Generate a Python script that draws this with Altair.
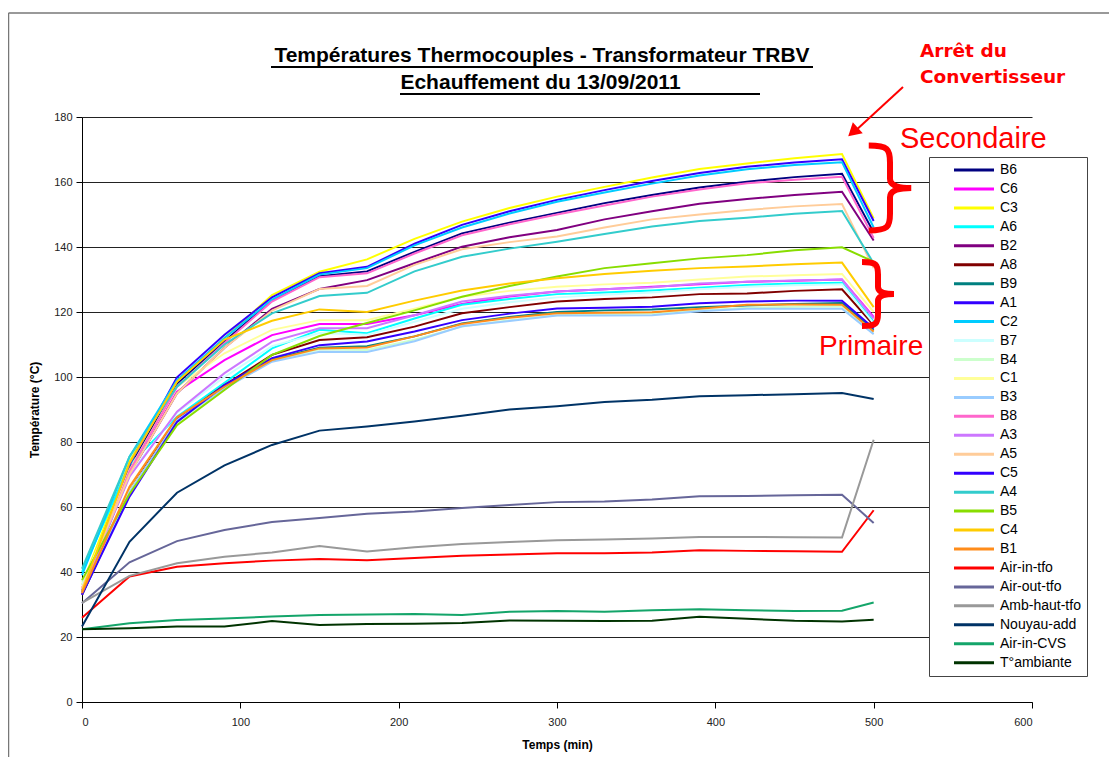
import altair as alt
import pandas as pd

TIME = [0, 30, 60, 90, 120, 150, 180, 210, 240, 270, 300, 330, 360, 390, 420, 450, 480, 500]

SERIES = ["B6", "C6", "C3", "A6", "B2", "A8", "B9", "A1", "C2", "B7", "B4", "C1", "B3", "B8",
          "A3", "A5", "C5", "A4", "B5", "C4", "B1", "Air-in-tfo", "Air-out-tfo",
          "Amb-haut-tfo", "Nouyau-add", "Air-in-CVS", "T°ambiante"]

COLORS = ["#000080", "#FF00FF", "#FFFF00", "#00FFFF", "#800080", "#800000", "#008080", "#3300FF",
          "#00CCFF", "#CCFFFF", "#CCFFCC", "#FFFF99", "#99CCFF", "#FF66CC", "#CC77FF", "#FFCC99",
          "#3300FF", "#33CCCC", "#88DD00", "#FFCC00", "#FF8C1A", "#FF0000", "#666699",
          "#999999", "#003366", "#14A56A", "#003300"]

B6 = [34, 72, 98, 111, 123.5, 131, 132.5, 138.5, 144.2, 147.5, 150.5, 153.5, 156, 158.3, 160.1, 161.5, 162.5, 144.5]
C6 = [35, 70, 95.5, 105.2, 112.9, 116.3, 116.3, 119, 122.5, 124.8, 126.3, 127, 127.8, 128.5, 129.3, 129.6, 130, 118.5]
C3 = [36, 74, 98.6, 112, 125.2, 132.4, 136.2, 142.5, 147.8, 152, 155.5, 158.5, 161.4, 164, 165.7, 167.3, 168.6, 148.8]
A6 = [40, 73, 87.8, 98.2, 108.8, 114.5, 113.5, 118, 122.2, 124, 125.5, 126, 126.6, 127.5, 128.3, 128.8, 129, 117]
B2 = [34, 70, 95, 109, 121, 127.1, 129.8, 135, 140.1, 143, 145.2, 148.5, 151, 153.3, 154.8, 156, 157, 142]
A8 = [33, 65, 87, 97.5, 106.8, 111.4, 112.2, 115.5, 119.6, 121.5, 123.2, 124, 124.5, 125.5, 125.7, 126.5, 127, 116]
B9 = [33, 64, 86.5, 97, 105.5, 109, 109.5, 112.5, 116.5, 118.5, 120, 120.5, 120.8, 121.5, 122, 122.5, 122.8, 114.5]
A1 = [34, 73, 99.9, 113, 124.5, 131.9, 133.9, 141, 146.8, 151, 154.5, 157.5, 160.3, 162.8, 164.7, 166, 167, 148]
C2 = [39, 75.5, 99, 112, 123.8, 131.5, 133.5, 140.5, 146, 150.3, 153.9, 156.8, 159.5, 162, 163.9, 165.2, 166.1, 146]
B7 = [36, 70, 89, 100, 109.5, 113.5, 113, 117, 121, 123, 124.5, 125.3, 126, 127, 127.8, 128.2, 128.5, 116.5]
B4 = [37, 65, 86, 96.5, 105, 108.5, 108.3, 111.5, 115.5, 117.5, 119, 119.3, 119.5, 120.5, 121.3, 121.6, 121.8, 113.8]
C1 = [35, 71.4, 97, 107.3, 114.5, 117.5, 117.5, 121, 124.7, 126.5, 127.8, 128.5, 129, 130, 130.9, 131.3, 131.7, 120]
B3 = [34, 64.5, 86.8, 96.5, 104.7, 107.8, 107.7, 111, 115.6, 117.2, 118.9, 118.9, 119, 120.2, 121, 121, 121, 113.2]
B8 = [33, 71, 97, 110.5, 123.2, 130.7, 131.9, 138, 143.6, 147, 150, 152.8, 155.5, 157.7, 159.6, 160.7, 161.6, 142.8]
A3 = [34.5, 69.3, 89.3, 101.2, 110.9, 115, 115, 119, 123.2, 125, 126.3, 127, 127.6, 128.8, 129.3, 129.7, 130, 118]
A5 = [35, 70, 95, 109, 120.4, 127.1, 128, 134.5, 139.3, 141.5, 143.2, 146, 148.5, 150, 151.4, 152.5, 153.2, 133.5]
C5 = [33, 63.2, 86.2, 97.5, 105.8, 109.8, 110.9, 114, 117.5, 119.5, 121.1, 121.3, 121.6, 122.7, 123.2, 123.5, 123.5, 115]
A4 = [41, 75.5, 97, 110, 119.6, 124.9, 125.9, 132.5, 137, 139.5, 141.6, 144, 146.3, 148, 149, 150.2, 151.1, 135]
B5 = [37.5, 64, 85.2, 96, 106.8, 112.6, 116.6, 120.5, 124.7, 128, 130.9, 133.5, 135, 136.5, 137.5, 139, 139.9, 135.5]
C4 = [34, 73.5, 98.6, 111.5, 117.3, 120.8, 120, 123.5, 126.6, 128.8, 130.4, 131.7, 132.7, 133.5, 134, 134.7, 135.2, 121.5]
B1 = [33.5, 66.2, 87.6, 97, 105.2, 108.8, 109.1, 112.5, 116.3, 118.2, 119.6, 119.8, 119.9, 121, 122.2, 122.3, 122.2, 114]
AIR_IN_TFO = [25.9, 38.6, 41.6, 42.7, 43.5, 44, 43.6, 44.3, 45, 45.4, 45.8, 45.8, 46, 46.7, 46.5, 46.4, 46.2, 59]
AIR_OUT_TFO = [30.4, 43, 49.5, 52.9, 55.4, 56.6, 57.9, 58.6, 59.7, 60.6, 61.5, 61.7, 62.3, 63.3, 63.4, 63.6, 63.8, 55.1]
AMB_HAUT_TFO = [30.5, 38.8, 42.7, 44.7, 46, 48, 46.3, 47.6, 48.6, 49.2, 49.8, 50, 50.3, 50.8, 50.8, 50.7, 50.6, 80.7]
NOUYAU_ADD = [23.2, 49.3, 64.4, 72.8, 79.1, 83.5, 84.8, 86.3, 88.1, 90, 91, 92.3, 93, 94.1, 94.4, 94.7, 95.1, 93.2]
AIR_IN_CVS = [22.4, 24.2, 25.2, 25.7, 26.3, 26.8, 26.9, 27.1, 26.8, 27.8, 28, 27.8, 28.2, 28.5, 28.2, 28, 28.1, 30.6]
T_AMBIANTE = [22.4, 22.7, 23.2, 23.2, 24.9, 23.7, 24, 24.1, 24.3, 25.1, 25, 24.9, 25, 26.2, 25.6, 25, 24.8, 25.3]

VALUES = [B6, C6, C3, A6, B2, A8, B9, A1, C2, B7, B4, C1, B3, B8, A3, A5, C5, A4, B5, C4, B1,
          AIR_IN_TFO, AIR_OUT_TFO, AMB_HAUT_TFO, NOUYAU_ADD, AIR_IN_CVS, T_AMBIANTE]

TITLE_1 = "Températures Thermocouples - Transformateur TRBV"
TITLE_2 = "Echauffement du 13/09/2011"
X_TICKS = [0, 100, 200, 300, 400, 500, 600]
Y_TICKS = [0, 20, 40, 60, 80, 100, 120, 140, 160, 180]

rows = []
for idx, (name, vals) in enumerate(zip(SERIES, VALUES)):
    for t, v in zip(TIME, vals):
        rows.append({"Serie": name, "Temps": t, "Temp": v, "k": idx})
df = pd.DataFrame(rows)

FONT = "Liberation Sans"
ONE = pd.DataFrame({"a": [0]})

lines = alt.Chart(df).mark_line(strokeWidth=2).encode(
    x=alt.X("Temps:Q", scale=alt.Scale(domain=[0, 600], nice=False),
            axis=alt.Axis(values=X_TICKS, title="Temps (min)", grid=False, tickSize=6,
                          labelPadding=8, titlePadding=12, labelFontSize=11,
                          titleFontSize=12, titleFontWeight="bold", labelFont=FONT,
                          titleFont=FONT, domainColor="#000", tickColor="#000",
                          labelColor="#222", titleColor="#000")),
    y=alt.Y("Temp:Q", scale=alt.Scale(domain=[0, 180], nice=False),
            axis=alt.Axis(values=Y_TICKS, title="Température (°C)", grid=True,
                          gridColor="#222", gridWidth=1, tickSize=6, labelPadding=4,
                          titlePadding=12, labelFontSize=11, titleFontSize=12,
                          titleFontWeight="bold", labelFont=FONT, titleFont=FONT,
                          domainColor="#000", tickColor="#000", labelColor="#222",
                          titleColor="#000")),
    color=alt.Color("Serie:N", sort=SERIES,
                    scale=alt.Scale(domain=SERIES, range=COLORS),
                    legend=alt.Legend(orient="none", legendX=847, legendY=40, title=None,
                                      symbolType="M-4,0H4", symbolSize=100,
                                      symbolStrokeWidth=3, labelFontSize=14, labelFont=FONT,
                                      labelColor="#000", rowPadding=4.95, padding=6,
                                      symbolOffset=32, labelOffset=19,
                                      labelExpr="datum.label + '\\u00a0\\u00a0\\u00a0\\u00a0\\u00a0'",
                                      strokeColor="#444", fillColor="#fff",
                                      labelLimit=300)),
    detail="k:N",
)


def text(t, x, y, **kw):
    return alt.Chart(ONE).mark_text(text=t, baseline="alphabetic", **kw).encode(
        x=alt.value(x), y=alt.value(y))


def rule(x, x2, y, y2, **kw):
    return alt.Chart(ONE).mark_rule(**kw).encode(
        x=alt.value(x), x2=alt.value(x2), y=alt.value(y), y2=alt.value(y2))


OX, OY = 82, 117  # origin of plot area on the page

BRACE = ("M-0.5,-1 C-0.05,-1 0,-0.92 0,-0.6 L0,-0.22 C0,-0.05 0.2,0 0.5,0 "
         "C0.2,0 0,0.05 0,0.22 L0,0.6 C0,0.92 -0.05,1 -0.5,1")

layers = [
    lines,
    # title
    text(TITLE_1, 542 - OX, 62 - OY, font=FONT, fontSize=21, fontWeight="bold", align="center", color="#000"),
    text(TITLE_2, 540.5 - OX, 89 - OY, font=FONT, fontSize=21, fontWeight="bold", align="center", color="#000"),
    rule(271 - OX, 813 - OX, 67 - OY, 67 - OY, color="#000", strokeWidth=2),
    rule(400 - OX, 760 - OX, 94 - OY, 94 - OY, color="#000", strokeWidth=2),
    # annotations
    text("Arrêt du", 920 - OX, 57 - OY, font="DejaVu Sans", fontSize=18.5, fontWeight="bold", align="left", color="#FF0000"),
    text("Convertisseur", 920 - OX, 83 - OY, font="DejaVu Sans", fontSize=18.5, fontWeight="bold", align="left", color="#FF0000"),
    text("Secondaire", 900 - OX, 148 - OY, font=FONT, fontSize=29, align="left", color="#FF0000"),
    text("Primaire", 819 - OX, 355 - OY, font=FONT, fontSize=28, align="left", color="#FF0000"),
    rule(903 - OX, 853 - OX, 87 - OY, 133 - OY, color="#FF0000", strokeWidth=2),
    alt.Chart(ONE).mark_point(shape="triangle-up", filled=True, color="#FF0000", size=220,
                              angle=228, opacity=1).encode(x=alt.value(853 - OX), y=alt.value(132 - OY)),
    alt.Chart(ONE).mark_point(shape=BRACE, filled=False, color="#FF0000", strokeWidth=6,
                              size=85 * 85, opacity=1).encode(x=alt.value(890 - OX), y=alt.value(188 - OY)),
    alt.Chart(ONE).mark_point(shape=BRACE, filled=False, color="#FF0000", strokeWidth=6,
                              size=64 * 64, opacity=1).encode(x=alt.value(878 - OX), y=alt.value(294 - OY)),
    # outer chart-area border
    rule(8.5 - OX, 8.5 - OX, 13 - OY, 780 - OY, color="#777", strokeWidth=1.5),
    rule(8.5 - OX, 1130 - OX, 13 - OY, 13 - OY, color="#777", strokeWidth=1.5),
]

chart = alt.layer(*layers).properties(
    width=950, height=585,
    padding={"left": 74, "top": 109, "right": 77, "bottom": 55},
    autosize=alt.AutoSizeParams(type="none"),
    background="#ffffff",
).configure_view(stroke=None)

chart.save("out.html", embed_options={"renderer": "svg", "actions": False})
